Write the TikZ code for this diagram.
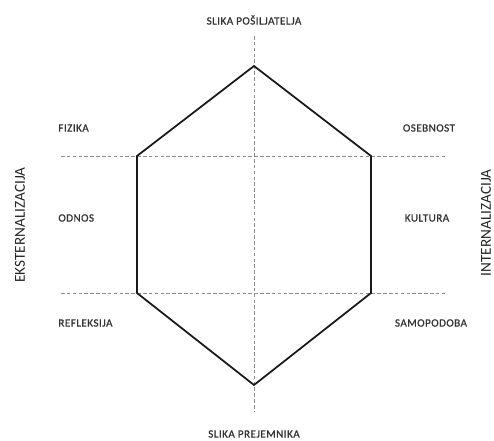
\documentclass[tikz,border=0pt]{standalone}
\usepackage{fontspec}
\setmainfont{Carlito}
\usetikzlibrary{positioning,calc}
\tikzset{
  lbl/.style   ={font=\fontsize{9.5}{11}\selectfont\addfontfeature{LetterSpace=4,FakeBold=0.8},
                 text=black!80, inner sep=1pt},
  side/.style  ={font=\fontsize{13}{15}\selectfont, text=black!85, rotate=90, inner sep=1pt},
  axis/.style  ={draw=black!45, line width=0.6pt, dash pattern=on 3pt off 2pt},
  hexa/.style  ={draw=black!90, line width=1.5pt, line join=miter},
}

\begin{document}
\begin{tikzpicture}[x=0.03cm, y=-0.03cm]
\useasboundingbox (0,0) rectangle (494,441);
% hexagon corners
\coordinate (t)  at (254,66);
\coordinate (ul) at (137,156);
\coordinate (ll) at (137,293);
\coordinate (b)  at (254,385);
\coordinate (lr) at (371,293);
\coordinate (ur) at (371,156);
% axis ends
\coordinate (vtop) at (254,36);
\coordinate (vbot) at (254,411);
\coordinate (hul) at (61,156);
\coordinate (hur) at (447,156);
\coordinate (hll) at (61,293);
\coordinate (hlr) at (447,293);

\draw[axis] (vtop)--(vbot);
\draw[axis] (hul)--(hur);
\draw[axis] (hll)--(hlr);
\draw[hexa] (t)--(ur)--(lr)--(b)--(ll)--(ul)--cycle;

\node[lbl] (send) at (254,20) {SLIKA POŠILJATELJA};
\node[lbl] (recv) at (254,434) {SLIKA PREJEMNIKA};
\node[lbl, anchor=west] (fiz) at (57,128) {FIZIKA};
\node[lbl, anchor=west] (odn) at (57,218) {ODNOS};
\node[lbl, anchor=west] (ref) at (57,323) {REFLEKSIJA};
\node[lbl] (ose) at (429,128) {OSEBNOST};
\node[lbl] (kul) at (427,218) {KULTURA};
\node[lbl] (sam) at (431,323) {SAMOPODOBA};
\node[side] (ext) at (20,225) {EKSTERNALIZACIJA};
\node[side] (int) at (486,223) {INTERNALIZACIJA};
\end{tikzpicture}
\end{document}
